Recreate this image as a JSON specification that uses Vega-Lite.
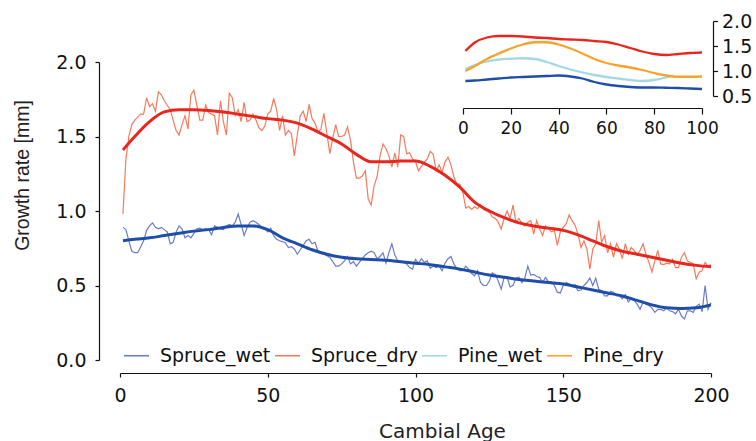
{
"$schema": "https://vega.github.io/schema/vega-lite/v6.json",
"width": 591, "height": 298,
"autosize": {"type": "none"},
"padding": {"left": 120, "top": 62, "right": 45, "bottom": 81},
"background": "white",
"config": {"view": {"stroke": null}, "font": "DejaVu Sans",
 "axis": {"grid": false, "labelFont": "DejaVu Sans", "titleFont": "DejaVu Sans", "domainColor": "#111", "tickColor": "#111", "labelColor": "#111", "titleColor": "#222", "titleFontWeight": "normal", "domainWidth": 1.2, "tickWidth": 1.2, "labelFlush": false, "labelOverlap": false}},
"datasets": {
"raw": [
{"age":1,"Spruce_wet":0.89,"Spruce_dry":0.98},{"age":2,"Spruce_wet":0.875,"Spruce_dry":1.35},{"age":3,"Spruce_wet":0.80,"Spruce_dry":1.50},{"age":4,"Spruce_wet":0.73,"Spruce_dry":1.58},{"age":5,"Spruce_wet":0.72,"Spruce_dry":1.61},
{"age":6,"Spruce_wet":0.72,"Spruce_dry":1.63},{"age":7,"Spruce_wet":0.76,"Spruce_dry":1.65},{"age":8,"Spruce_wet":0.80,"Spruce_dry":1.65},{"age":9,"Spruce_wet":0.87,"Spruce_dry":1.76},{"age":10,"Spruce_wet":0.90,"Spruce_dry":1.70},
{"age":11,"Spruce_wet":0.92,"Spruce_dry":1.72},{"age":12,"Spruce_wet":0.89,"Spruce_dry":1.67},{"age":13,"Spruce_wet":0.88,"Spruce_dry":1.80},{"age":14,"Spruce_wet":0.89,"Spruce_dry":1.78},{"age":15,"Spruce_wet":0.875,"Spruce_dry":1.74},
{"age":16,"Spruce_wet":0.86,"Spruce_dry":1.71},{"age":17,"Spruce_wet":0.78,"Spruce_dry":1.68},{"age":18,"Spruce_wet":0.79,"Spruce_dry":1.61},{"age":19,"Spruce_wet":0.86,"Spruce_dry":1.54},{"age":20,"Spruce_wet":0.90,"Spruce_dry":1.51},
{"age":21,"Spruce_wet":0.88,"Spruce_dry":1.58},{"age":22,"Spruce_wet":0.82,"Spruce_dry":1.64},{"age":23,"Spruce_wet":0.835,"Spruce_dry":1.55},{"age":24,"Spruce_wet":0.82,"Spruce_dry":1.78},{"age":25,"Spruce_wet":0.85,"Spruce_dry":1.81},
{"age":26,"Spruce_wet":0.88,"Spruce_dry":1.71},{"age":27,"Spruce_wet":0.885,"Spruce_dry":1.61},{"age":28,"Spruce_wet":0.875,"Spruce_dry":1.61},{"age":29,"Spruce_wet":0.88,"Spruce_dry":1.71},{"age":30,"Spruce_wet":0.875,"Spruce_dry":1.66},
{"age":31,"Spruce_wet":0.84,"Spruce_dry":1.65},{"age":32,"Spruce_wet":0.90,"Spruce_dry":1.64},{"age":33,"Spruce_wet":0.89,"Spruce_dry":1.51},{"age":34,"Spruce_wet":0.88,"Spruce_dry":1.74},{"age":35,"Spruce_wet":0.875,"Spruce_dry":1.60},
{"age":36,"Spruce_wet":0.90,"Spruce_dry":1.51},{"age":37,"Spruce_wet":0.91,"Spruce_dry":1.79},{"age":38,"Spruce_wet":0.90,"Spruce_dry":1.76},{"age":39,"Spruce_wet":0.925,"Spruce_dry":1.64},{"age":40,"Spruce_wet":0.98,"Spruce_dry":1.68},
{"age":41,"Spruce_wet":0.91,"Spruce_dry":1.60},{"age":42,"Spruce_wet":0.835,"Spruce_dry":1.73},{"age":43,"Spruce_wet":0.89,"Spruce_dry":1.60},{"age":44,"Spruce_wet":0.925,"Spruce_dry":1.61},{"age":45,"Spruce_wet":0.935,"Spruce_dry":1.65},
{"age":46,"Spruce_wet":0.925,"Spruce_dry":1.61},{"age":47,"Spruce_wet":0.91,"Spruce_dry":1.56},{"age":48,"Spruce_wet":0.89,"Spruce_dry":1.54},{"age":49,"Spruce_wet":0.88,"Spruce_dry":1.57},{"age":50,"Spruce_wet":0.86,"Spruce_dry":1.65},
{"age":51,"Spruce_wet":0.885,"Spruce_dry":1.67},{"age":52,"Spruce_wet":0.835,"Spruce_dry":1.755},{"age":53,"Spruce_wet":0.81,"Spruce_dry":1.68},{"age":54,"Spruce_wet":0.80,"Spruce_dry":1.54},{"age":55,"Spruce_wet":0.795,"Spruce_dry":1.64},
{"age":56,"Spruce_wet":0.785,"Spruce_dry":1.51},{"age":57,"Spruce_wet":0.755,"Spruce_dry":1.54},{"age":58,"Spruce_wet":0.76,"Spruce_dry":1.52},{"age":59,"Spruce_wet":0.745,"Spruce_dry":1.37},{"age":60,"Spruce_wet":0.71,"Spruce_dry":1.51},
{"age":61,"Spruce_wet":0.74,"Spruce_dry":1.64},{"age":62,"Spruce_wet":0.77,"Spruce_dry":1.67},{"age":63,"Spruce_wet":0.80,"Spruce_dry":1.60},{"age":64,"Spruce_wet":0.81,"Spruce_dry":1.715},{"age":65,"Spruce_wet":0.78,"Spruce_dry":1.62},
{"age":66,"Spruce_wet":0.79,"Spruce_dry":1.59},{"age":67,"Spruce_wet":0.73,"Spruce_dry":1.53},{"age":68,"Spruce_wet":0.72,"Spruce_dry":1.55},{"age":69,"Spruce_wet":0.71,"Spruce_dry":1.655},{"age":70,"Spruce_wet":0.70,"Spruce_dry":1.52},
{"age":71,"Spruce_wet":0.69,"Spruce_dry":1.385},{"age":72,"Spruce_wet":0.66,"Spruce_dry":1.49},{"age":73,"Spruce_wet":0.63,"Spruce_dry":1.58},{"age":74,"Spruce_wet":0.63,"Spruce_dry":1.50},{"age":75,"Spruce_wet":0.645,"Spruce_dry":1.50},
{"age":76,"Spruce_wet":0.665,"Spruce_dry":1.51},{"age":77,"Spruce_wet":0.695,"Spruce_dry":1.565},{"age":78,"Spruce_wet":0.645,"Spruce_dry":1.475},{"age":79,"Spruce_wet":0.66,"Spruce_dry":1.33},{"age":80,"Spruce_wet":0.63,"Spruce_dry":1.22},
{"age":81,"Spruce_wet":0.655,"Spruce_dry":1.22},{"age":82,"Spruce_wet":0.68,"Spruce_dry":1.235},{"age":83,"Spruce_wet":0.705,"Spruce_dry":1.27},{"age":84,"Spruce_wet":0.72,"Spruce_dry":1.08},{"age":85,"Spruce_wet":0.73,"Spruce_dry":1.04},
{"age":86,"Spruce_wet":0.72,"Spruce_dry":1.17},{"age":87,"Spruce_wet":0.68,"Spruce_dry":1.23},{"age":88,"Spruce_wet":0.695,"Spruce_dry":1.37},{"age":89,"Spruce_wet":0.72,"Spruce_dry":1.45},{"age":90,"Spruce_wet":0.65,"Spruce_dry":1.42},
{"age":91,"Spruce_wet":0.72,"Spruce_dry":1.37},{"age":92,"Spruce_wet":0.78,"Spruce_dry":1.295},{"age":93,"Spruce_wet":0.705,"Spruce_dry":1.39},{"age":94,"Spruce_wet":0.665,"Spruce_dry":1.295},{"age":95,"Spruce_wet":0.655,"Spruce_dry":1.51},
{"age":96,"Spruce_wet":0.655,"Spruce_dry":1.50},{"age":97,"Spruce_wet":0.645,"Spruce_dry":1.385},{"age":98,"Spruce_wet":0.62,"Spruce_dry":1.39},{"age":99,"Spruce_wet":0.61,"Spruce_dry":1.35},{"age":100,"Spruce_wet":0.675,"Spruce_dry":1.33},
{"age":101,"Spruce_wet":0.65,"Spruce_dry":1.27},{"age":102,"Spruce_wet":0.68,"Spruce_dry":1.30},{"age":103,"Spruce_wet":0.655,"Spruce_dry":1.33},{"age":104,"Spruce_wet":0.665,"Spruce_dry":1.35},{"age":105,"Spruce_wet":0.615,"Spruce_dry":1.40},
{"age":106,"Spruce_wet":0.63,"Spruce_dry":1.38},{"age":107,"Spruce_wet":0.62,"Spruce_dry":1.27},{"age":108,"Spruce_wet":0.63,"Spruce_dry":1.31},{"age":109,"Spruce_wet":0.60,"Spruce_dry":1.26},{"age":110,"Spruce_wet":0.65,"Spruce_dry":1.33},
{"age":111,"Spruce_wet":0.68,"Spruce_dry":1.36},{"age":112,"Spruce_wet":0.695,"Spruce_dry":1.31},{"age":113,"Spruce_wet":0.645,"Spruce_dry":1.23},{"age":114,"Spruce_wet":0.61,"Spruce_dry":1.18},{"age":115,"Spruce_wet":0.60,"Spruce_dry":1.18},
{"age":116,"Spruce_wet":0.60,"Spruce_dry":1.13},{"age":117,"Spruce_wet":0.63,"Spruce_dry":1.02},{"age":118,"Spruce_wet":0.61,"Spruce_dry":1.03},{"age":119,"Spruce_wet":0.58,"Spruce_dry":1.01},{"age":120,"Spruce_wet":0.565,"Spruce_dry":1.03},
{"age":121,"Spruce_wet":0.60,"Spruce_dry":1.015},{"age":122,"Spruce_wet":0.52,"Spruce_dry":1.04},{"age":123,"Spruce_wet":0.50,"Spruce_dry":1.01},{"age":124,"Spruce_wet":0.50,"Spruce_dry":1.00},{"age":125,"Spruce_wet":0.53,"Spruce_dry":0.99},
{"age":126,"Spruce_wet":0.585,"Spruce_dry":0.96},{"age":127,"Spruce_wet":0.575,"Spruce_dry":0.95},{"age":128,"Spruce_wet":0.53,"Spruce_dry":0.925},{"age":129,"Spruce_wet":0.475,"Spruce_dry":0.88},{"age":130,"Spruce_wet":0.555,"Spruce_dry":0.95},
{"age":131,"Spruce_wet":0.555,"Spruce_dry":1.00},{"age":132,"Spruce_wet":0.49,"Spruce_dry":0.95},{"age":133,"Spruce_wet":0.50,"Spruce_dry":1.04},{"age":134,"Spruce_wet":0.55,"Spruce_dry":0.925},{"age":135,"Spruce_wet":0.555,"Spruce_dry":0.95},
{"age":136,"Spruce_wet":0.52,"Spruce_dry":0.915},{"age":137,"Spruce_wet":0.55,"Spruce_dry":0.90},{"age":138,"Spruce_wet":0.63,"Spruce_dry":0.925},{"age":139,"Spruce_wet":0.57,"Spruce_dry":0.935},{"age":140,"Spruce_wet":0.575,"Spruce_dry":0.845},
{"age":141,"Spruce_wet":0.56,"Spruce_dry":0.935},{"age":142,"Spruce_wet":0.555,"Spruce_dry":0.88},{"age":143,"Spruce_wet":0.52,"Spruce_dry":0.835},{"age":144,"Spruce_wet":0.555,"Spruce_dry":0.90},{"age":145,"Spruce_wet":0.525,"Spruce_dry":0.88},
{"age":146,"Spruce_wet":0.525,"Spruce_dry":0.86},{"age":147,"Spruce_wet":0.50,"Spruce_dry":0.87},{"age":148,"Spruce_wet":0.455,"Spruce_dry":0.77},{"age":149,"Spruce_wet":0.45,"Spruce_dry":0.86},{"age":150,"Spruce_wet":0.50,"Spruce_dry":0.89},
{"age":151,"Spruce_wet":0.52,"Spruce_dry":0.915},{"age":152,"Spruce_wet":0.51,"Spruce_dry":0.975},{"age":153,"Spruce_wet":0.50,"Spruce_dry":0.935},{"age":154,"Spruce_wet":0.505,"Spruce_dry":0.905},{"age":155,"Spruce_wet":0.465,"Spruce_dry":0.845},
{"age":156,"Spruce_wet":0.47,"Spruce_dry":0.755},{"age":157,"Spruce_wet":0.50,"Spruce_dry":0.80},{"age":158,"Spruce_wet":0.52,"Spruce_dry":0.745},{"age":159,"Spruce_wet":0.55,"Spruce_dry":0.61},{"age":160,"Spruce_wet":0.50,"Spruce_dry":0.745},
{"age":161,"Spruce_wet":0.55,"Spruce_dry":0.78},{"age":162,"Spruce_wet":0.475,"Spruce_dry":0.935},{"age":163,"Spruce_wet":0.465,"Spruce_dry":0.79},{"age":164,"Spruce_wet":0.43,"Spruce_dry":0.835},{"age":165,"Spruce_wet":0.43,"Spruce_dry":0.72},
{"age":166,"Spruce_wet":0.46,"Spruce_dry":0.78},{"age":167,"Spruce_wet":0.455,"Spruce_dry":0.69},{"age":168,"Spruce_wet":0.43,"Spruce_dry":0.78},{"age":169,"Spruce_wet":0.43,"Spruce_dry":0.745},{"age":170,"Spruce_wet":0.41,"Spruce_dry":0.68},
{"age":171,"Spruce_wet":0.44,"Spruce_dry":0.78},{"age":172,"Spruce_wet":0.39,"Spruce_dry":0.71},{"age":173,"Spruce_wet":0.41,"Spruce_dry":0.755},{"age":174,"Spruce_wet":0.40,"Spruce_dry":0.735},{"age":175,"Spruce_wet":0.375,"Spruce_dry":0.705},
{"age":176,"Spruce_wet":0.34,"Spruce_dry":0.735},{"age":177,"Spruce_wet":0.39,"Spruce_dry":0.78},{"age":178,"Spruce_wet":0.375,"Spruce_dry":0.71},{"age":179,"Spruce_wet":0.365,"Spruce_dry":0.655},{"age":180,"Spruce_wet":0.35,"Spruce_dry":0.59},
{"age":181,"Spruce_wet":0.32,"Spruce_dry":0.665},{"age":182,"Spruce_wet":0.34,"Spruce_dry":0.735},{"age":183,"Spruce_wet":0.34,"Spruce_dry":0.645},{"age":184,"Spruce_wet":0.33,"Spruce_dry":0.64},{"age":185,"Spruce_wet":0.35,"Spruce_dry":0.65},
{"age":186,"Spruce_wet":0.33,"Spruce_dry":0.645},{"age":187,"Spruce_wet":0.325,"Spruce_dry":0.675},{"age":188,"Spruce_wet":0.31,"Spruce_dry":0.62},{"age":189,"Spruce_wet":0.34,"Spruce_dry":0.62},{"age":190,"Spruce_wet":0.295,"Spruce_dry":0.69},
{"age":191,"Spruce_wet":0.275,"Spruce_dry":0.72},{"age":192,"Spruce_wet":0.33,"Spruce_dry":0.665},{"age":193,"Spruce_wet":0.33,"Spruce_dry":0.655},{"age":194,"Spruce_wet":0.32,"Spruce_dry":0.645},{"age":195,"Spruce_wet":0.36,"Spruce_dry":0.545},
{"age":196,"Spruce_wet":0.375,"Spruce_dry":0.59},{"age":197,"Spruce_wet":0.325,"Spruce_dry":0.60},{"age":198,"Spruce_wet":0.50,"Spruce_dry":0.655},{"age":199,"Spruce_wet":0.34,"Spruce_dry":0.63},{"age":200,"Spruce_wet":0.385,"Spruce_dry":0.64}
],
"smooth": [
{"age":1,"Spruce_wet":0.80,"Spruce_dry":1.41},{"age":5,"Spruce_wet":0.81,"Spruce_dry":1.50},{"age":10,"Spruce_wet":0.82,"Spruce_dry":1.60},{"age":15,"Spruce_wet":0.835,"Spruce_dry":1.665},{"age":20,"Spruce_wet":0.85,"Spruce_dry":1.68},
{"age":25,"Spruce_wet":0.865,"Spruce_dry":1.68},{"age":30,"Spruce_wet":0.875,"Spruce_dry":1.675},{"age":35,"Spruce_wet":0.89,"Spruce_dry":1.665},{"age":40,"Spruce_wet":0.90,"Spruce_dry":1.65},{"age":45,"Spruce_wet":0.90,"Spruce_dry":1.635},
{"age":50,"Spruce_wet":0.875,"Spruce_dry":1.62},{"age":55,"Spruce_wet":0.82,"Spruce_dry":1.61},{"age":60,"Spruce_wet":0.78,"Spruce_dry":1.59},{"age":65,"Spruce_wet":0.74,"Spruce_dry":1.55},{"age":70,"Spruce_wet":0.71,"Spruce_dry":1.50},
{"age":75,"Spruce_wet":0.69,"Spruce_dry":1.45},{"age":80,"Spruce_wet":0.68,"Spruce_dry":1.38},{"age":85,"Spruce_wet":0.675,"Spruce_dry":1.33},{"age":90,"Spruce_wet":0.67,"Spruce_dry":1.33},{"age":95,"Spruce_wet":0.66,"Spruce_dry":1.335},
{"age":100,"Spruce_wet":0.65,"Spruce_dry":1.335},{"age":105,"Spruce_wet":0.64,"Spruce_dry":1.30},{"age":110,"Spruce_wet":0.625,"Spruce_dry":1.24},{"age":115,"Spruce_wet":0.61,"Spruce_dry":1.16},{"age":120,"Spruce_wet":0.59,"Spruce_dry":1.06},
{"age":125,"Spruce_wet":0.57,"Spruce_dry":1.00},{"age":130,"Spruce_wet":0.555,"Spruce_dry":0.955},{"age":135,"Spruce_wet":0.54,"Spruce_dry":0.92},{"age":140,"Spruce_wet":0.53,"Spruce_dry":0.90},{"age":145,"Spruce_wet":0.52,"Spruce_dry":0.885},
{"age":150,"Spruce_wet":0.51,"Spruce_dry":0.87},{"age":155,"Spruce_wet":0.49,"Spruce_dry":0.84},{"age":160,"Spruce_wet":0.47,"Spruce_dry":0.80},{"age":165,"Spruce_wet":0.45,"Spruce_dry":0.76},{"age":170,"Spruce_wet":0.43,"Spruce_dry":0.73},
{"age":175,"Spruce_wet":0.40,"Spruce_dry":0.71},{"age":180,"Spruce_wet":0.37,"Spruce_dry":0.69},{"age":185,"Spruce_wet":0.35,"Spruce_dry":0.67},{"age":190,"Spruce_wet":0.345,"Spruce_dry":0.65},{"age":195,"Spruce_wet":0.35,"Spruce_dry":0.635},
{"age":200,"Spruce_wet":0.37,"Spruce_dry":0.625}
],
"inset": [
{"age":1,"Spruce_wet":0.80,"Spruce_dry":1.40,"Pine_wet":1.04,"Pine_dry":1.00},
{"age":5,"Spruce_wet":0.81,"Spruce_dry":1.57,"Pine_wet":1.12,"Pine_dry":1.10},
{"age":10,"Spruce_wet":0.83,"Spruce_dry":1.67,"Pine_wet":1.19,"Pine_dry":1.24},
{"age":15,"Spruce_wet":0.85,"Spruce_dry":1.70,"Pine_wet":1.23,"Pine_dry":1.35},
{"age":20,"Spruce_wet":0.87,"Spruce_dry":1.70,"Pine_wet":1.245,"Pine_dry":1.45},
{"age":25,"Spruce_wet":0.88,"Spruce_dry":1.69,"Pine_wet":1.255,"Pine_dry":1.53},
{"age":30,"Spruce_wet":0.89,"Spruce_dry":1.67,"Pine_wet":1.24,"Pine_dry":1.575},
{"age":35,"Spruce_wet":0.90,"Spruce_dry":1.66,"Pine_wet":1.18,"Pine_dry":1.575},
{"age":40,"Spruce_wet":0.91,"Spruce_dry":1.64,"Pine_wet":1.10,"Pine_dry":1.53},
{"age":45,"Spruce_wet":0.89,"Spruce_dry":1.63,"Pine_wet":1.03,"Pine_dry":1.45},
{"age":50,"Spruce_wet":0.85,"Spruce_dry":1.62,"Pine_wet":0.97,"Pine_dry":1.35},
{"age":55,"Spruce_wet":0.78,"Spruce_dry":1.60,"Pine_wet":0.92,"Pine_dry":1.24},
{"age":60,"Spruce_wet":0.73,"Spruce_dry":1.58,"Pine_wet":0.88,"Pine_dry":1.16},
{"age":65,"Spruce_wet":0.70,"Spruce_dry":1.53,"Pine_wet":0.85,"Pine_dry":1.11},
{"age":70,"Spruce_wet":0.68,"Spruce_dry":1.46,"Pine_wet":0.82,"Pine_dry":1.07},
{"age":75,"Spruce_wet":0.67,"Spruce_dry":1.39,"Pine_wet":0.80,"Pine_dry":1.02},
{"age":80,"Spruce_wet":0.67,"Spruce_dry":1.34,"Pine_wet":0.82,"Pine_dry":0.96},
{"age":85,"Spruce_wet":0.665,"Spruce_dry":1.32,"Pine_wet":0.87,"Pine_dry":0.91},
{"age":88,"Spruce_wet":null,"Spruce_dry":null,"Pine_wet":0.91,"Pine_dry":null},
{"age":90,"Spruce_wet":0.66,"Spruce_dry":1.34,"Pine_wet":null,"Pine_dry":0.885},
{"age":95,"Spruce_wet":0.65,"Spruce_dry":1.36,"Pine_wet":null,"Pine_dry":0.885},
{"age":100,"Spruce_wet":0.64,"Spruce_dry":1.37,"Pine_wet":null,"Pine_dry":0.89}
]
},
"layer": [
{
 "encoding": {
  "x": {"field": "age", "type": "quantitative", "scale": {"domain": [0, 200], "nice": false, "zero": false},
   "axis": {"orient": "bottom", "offset": 13, "values": [0, 50, 100, 150, 200], "tickSize": 4, "labelFontSize": 19, "labelPadding": 9,
    "title": "Cambial Age", "titleFontSize": 20, "titleX": 322, "titleY": 64, "titleAlign": "center", "titleBaseline": "alphabetic"}},
  "y": {"field": "value", "type": "quantitative", "scale": {"domain": [0, 2], "nice": false},
   "axis": {"orient": "left", "offset": 21, "values": [0, 0.5, 1, 1.5, 2], "format": ".1f", "tickSize": 4, "labelFontSize": 19, "labelPadding": 9,
    "title": "Growth rate [mm]", "titleFont": "Liberation Sans", "titleFontSize": 19.5, "titleAngle": -90, "titleX": -71, "titleY": 113, "titleAlign": "center", "titleBaseline": "alphabetic"}}
 },
 "layer": [
  {"data": {"name": "raw"}, "transform": [{"fold": ["Spruce_wet", "Spruce_dry"], "as": ["series", "value"]}],
   "mark": {"type": "line", "strokeWidth": 1.2},
   "encoding": {"color": {"field": "series", "type": "nominal",
     "scale": {"domain": ["Spruce_wet", "Spruce_dry", "Pine_wet", "Pine_dry"], "range": ["#6a7cc6", "#f47a5c", "#a3d8e4", "#f6a530"]},
     "legend": {"title": null, "orient": "none", "direction": "horizontal", "legendX": 3, "legendY": 280, "padding": 0,
      "symbolType": "stroke", "symbolSize": 625, "symbolStrokeWidth": 1.6, "labelFontSize": 19, "labelFont": "DejaVu Sans", "labelColor": "#111",
      "labelOffset": 10, "columnPadding": 0}}}},
  {"data": {"name": "smooth"}, "transform": [{"fold": ["Spruce_wet", "Spruce_dry"], "as": ["series", "value"]}],
   "mark": {"type": "line", "strokeWidth": 3, "interpolate": "monotone"},
   "encoding": {"color": {"field": "series", "type": "nominal",
     "scale": {"domain": ["Spruce_wet", "Spruce_dry"], "range": ["#1f4ea8", "#e8261e"]}, "legend": null}}}
 ],
 "resolve": {"scale": {"color": "independent"}}
},
{
 "data": {"name": "inset"},
 "transform": [{"fold": ["Spruce_wet", "Spruce_dry", "Pine_wet", "Pine_dry"], "as": ["series", "value"]}, {"filter": {"field": "value", "valid": true}}],
 "mark": {"type": "line", "strokeWidth": 2.3, "interpolate": "monotone"},
 "encoding": {
  "x": {"field": "age", "type": "quantitative", "scale": {"domain": [0, 100], "range": [343, 582], "nice": false, "zero": false},
   "axis": {"orient": "bottom", "offset": -252, "values": [0, 20, 40, 60, 80, 100], "tickSize": 6, "labelFontSize": 17, "labelPadding": 6, "title": null}},
  "y": {"field": "value", "type": "quantitative", "scale": {"domain": [0.5, 2], "range": [34, -41], "nice": false, "zero": false},
   "axis": {"orient": "right", "offset": 2, "values": [0.5, 1, 1.5, 2], "format": ".1f", "tickSize": 4.5, "labelFontSize": 19, "labelPadding": 4, "title": null}},
  "color": {"field": "series", "type": "nominal",
   "scale": {"domain": ["Spruce_wet", "Spruce_dry", "Pine_wet", "Pine_dry"], "range": ["#1f4ea8", "#e8261e", "#a3d8e4", "#f6a32c"]}, "legend": null}
 }
}
],
"resolve": {"scale": {"x": "independent", "y": "independent", "color": "independent"}, "axis": {"x": "independent", "y": "independent"}}
}
